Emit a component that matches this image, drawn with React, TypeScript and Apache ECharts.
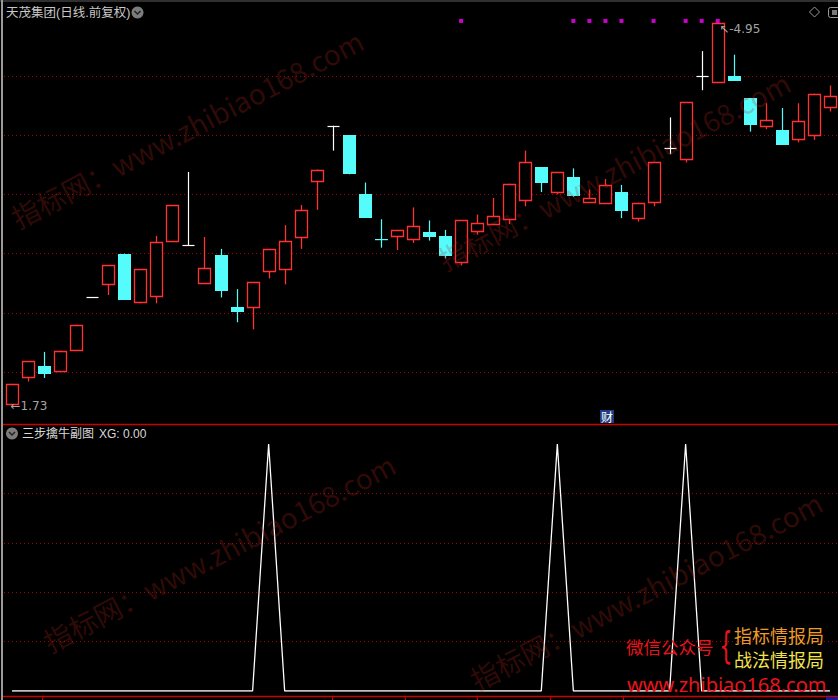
import React, { useEffect, useRef } from "react";
import * as echarts from "echarts";

// ---------- data ----------
const categories = [
  "1", "2", "3", "4", "5", "6", "7", "8", "9", "10",
  "11", "12", "13", "14", "15", "16", "17", "18", "19", "20",
  "21", "22", "23", "24", "25", "26", "27", "28", "29", "30",
  "31", "32", "33", "34", "35", "36", "37", "38", "39", "40",
  "41", "42", "43", "44", "45", "46", "47", "48", "49", "50",
  "51", "52",
];
const opens = [
  1.73, 1.96, 2.05, 2.01, 2.19, 2.63, 2.74, 3.0, 2.59, 2.64,
  3.11, 3.07, 2.75, 2.99, 2.55, 2.55, 2.85, 2.87, 3.14, 3.61,
  4.08, 4.0, 3.5, 3.12, 3.15, 3.12, 3.18, 3.15, 2.93, 3.19,
  3.25, 3.29, 3.45, 3.73, 3.52, 3.65, 3.44, 3.43, 3.52, 3.3,
  3.44, 3.89, 3.8, 4.5, 4.45, 4.5, 4.31, 4.08, 4.04, 3.97,
  4.0, 4.24,
];
const closes = [
  1.9, 2.09, 1.98, 2.18, 2.4, 2.63, 2.9, 2.61, 2.87, 3.1,
  3.41, 3.07, 2.88, 2.68, 2.51, 2.76, 3.04, 3.11, 3.37, 3.71,
  4.08, 3.67, 3.3, 3.115, 3.2, 3.23, 3.14, 2.98, 3.28, 3.26,
  3.32, 3.59, 3.77, 3.6, 3.69, 3.49, 3.47, 3.58, 3.36, 3.43,
  3.77, 3.89, 4.28, 4.5, 4.95, 4.46, 4.09, 4.13, 3.92, 4.12,
  4.35, 4.33,
];
const lows = [
  1.73, 1.92, 1.95, 2.01, 2.18, 2.63, 2.65, 2.61, 2.58, 2.58,
  3.11, 3.07, 2.75, 2.63, 2.42, 2.36, 2.79, 2.74, 3.04, 3.37,
  3.87, 3.67, 3.3, 3.05, 3.03, 3.09, 3.11, 2.96, 2.9, 3.16,
  3.25, 3.25, 3.4, 3.52, 3.5, 3.48, 3.44, 3.43, 3.3, 3.27,
  3.4, 3.84, 3.77, 4.38, 4.45, 4.46, 4.03, 4.05, 3.92, 3.94,
  3.96, 4.2,
];
const highs = [
  1.9, 2.09, 2.17, 2.18, 2.4, 2.63, 2.9, 3.0, 2.87, 3.15,
  3.41, 3.69, 3.14, 3.04, 2.7, 2.76, 3.04, 3.24, 3.41, 3.71,
  4.08, 4.0, 3.6, 3.29, 3.2, 3.39, 3.28, 3.2, 3.28, 3.33,
  3.47, 3.59, 3.87, 3.73, 3.69, 3.72, 3.54, 3.63, 3.58, 3.43,
  3.77, 4.15, 4.28, 4.71, 4.95, 4.68, 4.31, 4.27, 4.23, 4.27,
  4.35, 4.42,
];
const xgValues = [
  0, 0, 0, 0, 0, 0, 0, 0, 0, 0,
  0, 0, 0, 0, 0, 0, 1, 0, 0, 0,
  0, 0, 0, 0, 0, 0, 0, 0, 0, 0,
  0, 0, 0, 0, 1, 0, 0, 0, 0, 0,
  0, 0, 1, 0, 0, 0, 0, 0, 0, 0,
  0, 0,
];
const signalIndices = [28, 35, 36, 37, 38, 40, 42, 43, 44];
const signalLevel = 4.965;
const highIndex = 44;
const highLabel = "4.95";
const lowIndex = 0;
const lowLabel = "1.73";
const priceMin = 1.5;
const priceMax = 5.0;
const priceStep = 0.5;
const xgMin = 0;
const xgMax = 1;
const xgStep = 0.2;
const titleMain = "天茂集团(日线.前复权)";
const titleSubName = "三步擒牛副图";
const titleSubValue = "XG: 0.00";
const watermark = "指标网：www.zhibiao168.com";

const RED = "#ff3232";
const CYAN = "#54fcfc";
const GRID_RED = "#a30000";
const CJK = '"Noto Sans CJK SC", "Noto Sans", sans-serif';
const MIXED = '"Liberation Sans", "Noto Sans CJK SC", sans-serif';

function renderCandle(_params: any, api: any) {
  const i = api.value(0);
  const o = api.value(1);
  const c = api.value(2);
  const l = api.value(3);
  const h = api.value(4);
  const po = api.coord([i, o]);
  const x = Math.round(po[0]) + 0.5;
  const yo = po[1];
  const yc = api.coord([i, c])[1];
  const yl = api.coord([i, l])[1];
  const yh = api.coord([i, h])[1];
  const half = 6;
  const children: any[] = [];
  if (c > o) {
    const top = Math.round(yc) + 0.5;
    const bot = Math.round(yo) + 0.5;
    if (yh < top) children.push({ type: "line", shape: { x1: x, y1: yh, x2: x, y2: top }, style: { stroke: RED, lineWidth: 1.3 } });
    if (yl > bot) children.push({ type: "line", shape: { x1: x, y1: bot, x2: x, y2: yl }, style: { stroke: RED, lineWidth: 1.3 } });
    children.push({ type: "rect", shape: { x: x - half, y: top, width: half * 2, height: Math.max(bot - top, 1) }, style: { fill: "#000", stroke: RED, lineWidth: 1.3 } });
  } else if (c < o) {
    children.push({ type: "line", shape: { x1: x, y1: yh, x2: x, y2: yl }, style: { stroke: CYAN, lineWidth: 1.2 } });
    const top = Math.round(yo);
    const bot = Math.round(yc);
    children.push({ type: "rect", shape: { x: x - half - 0.5, y: top, width: half * 2 + 1, height: Math.max(bot - top, 1.2) }, style: { fill: CYAN } });
  } else {
    const yy = Math.round(yo) + 0.5;
    children.push({ type: "line", shape: { x1: x, y1: yh, x2: x, y2: yl }, style: { stroke: "#fff", lineWidth: 1.2 } });
    children.push({ type: "line", shape: { x1: x - half, y1: yy, x2: x + half, y2: yy }, style: { stroke: "#fff", lineWidth: 1.2 } });
  }
  return { type: "group", children };
}

function chevronIcon(cx: number, cy: number) {
  return [
    { type: "circle", shape: { cx, cy, r: 6 }, style: { fill: "#7c7c7c" }, z: 50 },
    {
      type: "polyline",
      shape: { points: [[cx - 3, cy - 1.5], [cx, cy + 1.5], [cx + 3, cy - 1.5]] },
      style: { stroke: "#222", lineWidth: 1.5, fill: null },
      z: 51,
    },
  ];
}

function wm(x: number, y: number) {
  return {
    type: "text",
    x,
    y,
    rotation: 0.48,
    z: 90,
    silent: true,
    style: {
      text: watermark,
      font: `28px ${CJK}`,
      fill: "rgba(190,40,30,0.27)",
      textAlign: "left",
      textVerticalAlign: "middle",
    },
  };
}

export default function App() {
  const ref = useRef<HTMLDivElement>(null);
  useEffect(() => {
    if (!ref.current) return;
    const chart = echarts.init(ref.current, undefined, { renderer: "svg" });
    const candleData = categories.map((_, i) => [i, opens[i], closes[i], lows[i], highs[i]]);
    const bottomTicks = [42, 332, 405, 477, 550, 623];

    const option: any = {
      animation: false,
      backgroundColor: "#000",
      grid: [
        { left: 4, width: 837.1, top: 16.8, height: 414.4 },
        { left: 4, width: 837.1, top: 444, height: 247 },
      ],
      xAxis: [
        { type: "category", data: categories, gridIndex: 0, boundaryGap: true, show: false },
        { type: "category", data: categories, gridIndex: 1, boundaryGap: true, show: false },
      ],
      yAxis: [
        {
          type: "value", gridIndex: 0, min: priceMin, max: priceMax, interval: priceStep,
          axisLine: { show: false }, axisTick: { show: false }, axisLabel: { show: false },
          splitLine: { show: true, showMinLine: false, showMaxLine: false, lineStyle: { color: GRID_RED, type: [1, 3], width: 1 } },
        },
        {
          type: "value", gridIndex: 1, min: xgMin, max: xgMax, interval: xgStep,
          axisLine: { show: false }, axisTick: { show: false }, axisLabel: { show: false },
          splitLine: { show: true, showMinLine: false, showMaxLine: false, lineStyle: { color: GRID_RED, type: [1, 3], width: 1 } },
        },
      ],
      series: [
        {
          type: "custom",
          name: "K",
          xAxisIndex: 0,
          yAxisIndex: 0,
          renderItem: renderCandle,
          encode: { x: 0, y: [1, 2, 3, 4] },
          data: candleData,
          z: 5,
        },
        {
          type: "scatter",
          name: "signal",
          xAxisIndex: 0,
          yAxisIndex: 0,
          symbol: "rect",
          symbolSize: 4,
          itemStyle: { color: "#ff00ff" },
          data: signalIndices.map((i) => [i, signalLevel]),
          z: 6,
        },
        {
          type: "scatter",
          name: "extremes",
          xAxisIndex: 0,
          yAxisIndex: 0,
          symbolSize: 1,
          itemStyle: { color: "rgba(0,0,0,0)" },
          label: { show: true, color: "#d0d0d0", fontSize: 12, fontFamily: '"DejaVu Sans", sans-serif' },
          data: [
            { value: [highIndex, highs[highIndex]], label: { formatter: "↖-" + highLabel, position: "right", offset: [-4, 6] } },
            { value: [lowIndex, lows[lowIndex]], label: { formatter: "←" + lowLabel, position: "right", offset: [-7, 2] } },
          ],
          z: 7,
        },
        {
          type: "line",
          name: "XG",
          xAxisIndex: 1,
          yAxisIndex: 1,
          data: xgValues,
          showSymbol: false,
          symbol: "none",
          lineStyle: { color: "#ffffff", width: 1.3 },
          z: 5,
        },
      ],
      graphic: [
        // top gray tab strip
        { type: "line", shape: { x1: 0, y1: 1, x2: 838, y2: 1 }, style: { stroke: "#303030", lineWidth: 2 }, z: 40 },
        // left border
        { type: "rect", shape: { x: 1, y: 0, width: 2, height: 700 }, style: { fill: "#9a9a9a" }, z: 40 },
        // separators
        { type: "line", shape: { x1: 3, y1: 424.5, x2: 838, y2: 424.5 }, style: { stroke: "#cc0000", lineWidth: 1.5 }, z: 40 },
        { type: "line", shape: { x1: 3, y1: 696.5, x2: 838, y2: 696.5 }, style: { stroke: "#cc0000", lineWidth: 1.5 }, z: 40 },
        ...bottomTicks.map((x) => ({ type: "line", shape: { x1: x + 0.5, y1: 697, x2: x + 0.5, y2: 700 }, style: { stroke: "#cc0000", lineWidth: 1 }, z: 40 })),
        { type: "rect", shape: { x: 826, y: 697, width: 12, height: 3 }, style: { fill: "#1a1aa0" }, z: 40 },
        // titles
        { type: "text", x: 6, y: 12.5, z: 50, style: { text: titleMain, font: `12.5px ${MIXED}`, fill: "#c8c8c8", textVerticalAlign: "middle" } },
        ...chevronIcon(137.5, 12.5),
        { type: "text", x: 22, y: 433.5, z: 50, style: { text: titleSubName, font: `12px ${MIXED}`, fill: "#d8d8d8", textVerticalAlign: "middle" } },
        { type: "text", x: 99, y: 433.5, z: 50, style: { text: titleSubValue, font: `12px ${MIXED}`, fill: "#d8d8d8", textVerticalAlign: "middle" } },
        ...chevronIcon(12, 433.5),
        // top-right icons
        { type: "polygon", shape: { points: [[814.5, 7], [819.5, 12], [814.5, 17], [809.5, 12]] }, style: { fill: null, stroke: "#9a9a9a", lineWidth: 1 }, z: 50 },
        { type: "rect", shape: { x: 828.5, y: 7.5, width: 12, height: 10, r: 2 }, style: { fill: null, stroke: "#9a9a9a", lineWidth: 1 }, z: 50 },
        { type: "rect", shape: { x: 832, y: 10, width: 5, height: 5 }, style: { fill: "#7a7a7a" }, z: 50 },
        // 财 marker
        { type: "rect", shape: { x: 600, y: 410, width: 14, height: 13 }, style: { fill: "#1e3d80" }, z: 50 },
        { type: "text", x: 607, y: 416.5, z: 51, style: { text: "财", font: `12px ${CJK}`, fill: "#ffffff", textAlign: "center", textVerticalAlign: "middle" } },
        // watermarks
        wm(13, 219),
        wm(440, 261),
        wm(45, 643),
        wm(472, 681),
        // promo texts
        { type: "text", x: 626, y: 646, z: 95, style: { text: "微信公众号", font: `17.5px ${CJK}`, fill: "#e8141c", textVerticalAlign: "middle" } },
        { type: "text", x: 726, y: 645, z: 95, scaleX: 0.55, style: { text: "{", font: `38px "DejaVu Sans", sans-serif`, fill: "#e8141c", textAlign: "center", textVerticalAlign: "middle" } },
        { type: "text", x: 734, y: 635, z: 95, style: { text: "指标情报局", font: `18px ${CJK}`, fill: "#ec9a28", textVerticalAlign: "middle" } },
        { type: "text", x: 734, y: 659, z: 95, style: { text: "战法情报局", font: `18px ${CJK}`, fill: "#f2e24c", textVerticalAlign: "middle" } },
        { type: "text", x: 627, y: 684, z: 95, style: { text: "www.zhibiao168.com", font: `20px "Noto Sans", sans-serif`, fill: "#e8141c", textVerticalAlign: "middle" } },
      ],
    };
    chart.setOption(option);
    return () => chart.dispose();
  }, []);
  return (
    <div
      ref={ref}
      style={{ position: "fixed", left: 0, top: 0, width: 838, height: 700, background: "#000" }}
    />
  );
}
